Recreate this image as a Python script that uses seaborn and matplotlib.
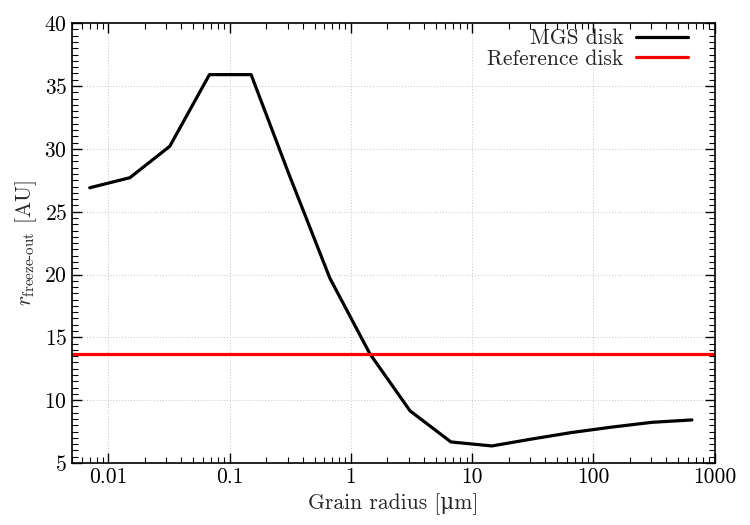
import numpy as np
import pandas as pd
import matplotlib
matplotlib.use("Agg")
import matplotlib.pyplot as plt
import seaborn as sns
from matplotlib.ticker import LogLocator, MultipleLocator, FuncFormatter

# Datos
grain_radius = [0.007, 0.015, 0.032, 0.068, 0.15, 0.31, 0.67, 1.43, 3.07,
                6.67, 14.5, 30.5, 65, 139, 303, 648]
r_freeze_mgs = [26.9, 27.7, 30.2, 35.9, 35.9, 27.9, 19.7, 13.7, 9.15,
                6.68, 6.36, 6.9, 7.42, 7.85, 8.24, 8.43]
r_freeze_ref = 13.7

df = pd.DataFrame({"a": grain_radius, "r": r_freeze_mgs})

sns.set_theme(style="ticks")
plt.rcParams["font.family"] = ["cmr10", "DejaVu Serif"]
plt.rcParams["mathtext.fontset"] = "cm"
plt.rcParams["axes.formatter.use_mathtext"] = True
plt.rcParams["axes.unicode_minus"] = False

fig = plt.figure(figsize=(7.5, 5.25), dpi=100)
ax = fig.add_axes([0.096, 0.118, 0.857, 0.838])

sns.lineplot(data=df, x="a", y="r", ax=ax, color="black", lw=2.3,
             label="MGS disk")
ax.axhline(r_freeze_ref, color="#ff0000", lw=2.3, label="Reference disk")

ax.set_xscale("log")
ax.set_xlim(0.005, 1000)
ax.set_ylim(5, 40)
ax.xaxis.set_major_locator(LogLocator(base=10, numticks=12))
ax.xaxis.set_minor_locator(LogLocator(base=10, subs=np.arange(2, 10), numticks=12))
ax.xaxis.set_major_formatter(FuncFormatter(lambda v, p: f"{v:g}"))
ax.yaxis.set_major_locator(MultipleLocator(5))
ax.yaxis.set_minor_locator(MultipleLocator(0.5))

ax.tick_params(which="both", direction="in", top=True, right=True,
               labelsize=15.5, colors="black")
ax.tick_params(which="major", length=7, width=1)
ax.tick_params(which="minor", length=4, width=0.8)
for s in ax.spines.values():
    s.set_linewidth(1.2)
    s.set_color("black")

ax.grid(True, which="major", color="#c4c4c4", ls=(0, (1, 2)), lw=0.7)

ax.set_xlabel("Grain radius [\u03bcm]", fontsize=15.5)
ax.set_ylabel(r"$r_{\mathrm{freeze\text{-}out}}$ [AU]", fontsize=15.5, labelpad=4)

leg = ax.legend(loc="upper right", bbox_to_anchor=(0.972, 1.007),
                frameon=False, markerfirst=False, borderaxespad=0,
                fontsize=15.5, handlelength=2.4,
                labelspacing=0.05, handletextpad=0.6)

fig.savefig("out.png", dpi=100)
